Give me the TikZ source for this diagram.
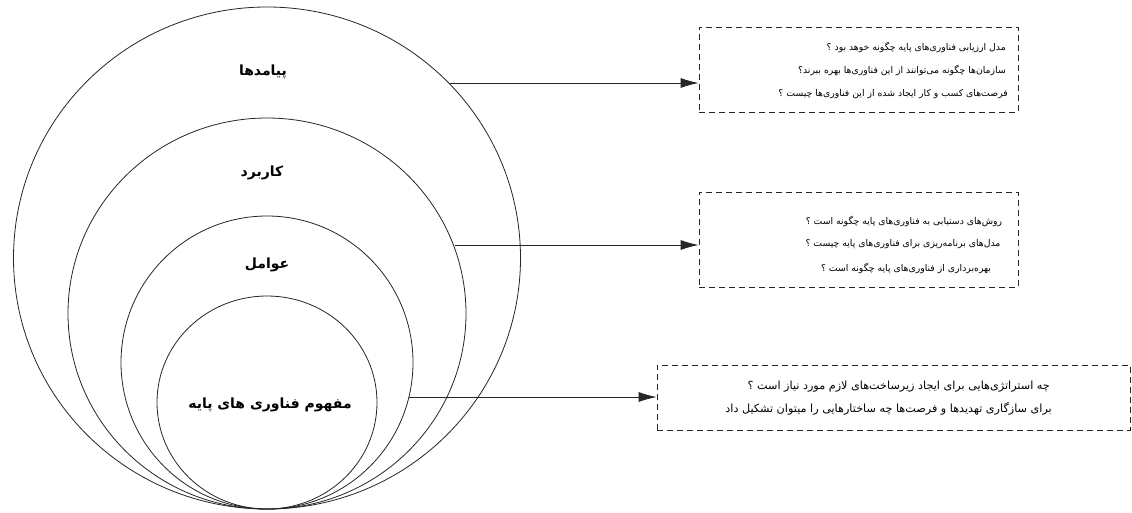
\documentclass[tikz,border=0pt]{standalone}
\usepackage{fontspec}
\TeXXeTstate=1
\newfontfamily\arabicfont[Script=Arabic]{DejaVu Sans}
\usetikzlibrary{arrows.meta}
\tikzset{
  ring/.style={draw=black!85, line width=0.8pt},
  qbox/.style={draw=black!85, dashed, dash pattern=on 6pt off 4pt, line width=0.8pt, minimum width=#1, inner sep=0pt},
  qline/.style={font=\arabicfont\fontsize{9.3}{11}\selectfont, inner sep=0pt, anchor=east},
  qlineb/.style={font=\arabicfont\fontsize{11.2}{13}\selectfont, inner sep=0pt, anchor=east},
  clabel/.style={font=\arabicfont\bfseries\fontsize{14}{16}\selectfont, inner sep=0pt},
  conn/.style={draw=black!85, line width=0.8pt, -{Latex[length=18pt,width=10pt]}}
}
\begin{document}
\begin{tikzpicture}[x=1pt,y=-1pt]
\useasboundingbox (0,0) rectangle (1132,512);
\fill[white] (0,0) rectangle (1132,512);
% rings
\draw[ring] (267,258) ellipse [x radius=253.5pt, y radius=251pt];
\draw[ring] (267,313.5) ellipse [x radius=199pt, y radius=195.5pt];
\draw[ring] (267,362.5) ellipse [x radius=146pt, y radius=146.5pt];
\draw[ring] (267,402.5) ellipse [x radius=110pt, y radius=106.5pt];
% ring labels
\node[clabel] (l1) at (263,72) {\beginR پیامدها\endR};
\node[clabel] (l2) at (262,173) {\beginR کاربرد\endR};
\node[clabel] (l3) at (267,265) {\beginR عوامل\endR};
\node[clabel] (l4) at (270,405) {\beginR مفهوم فناوری های پایه\endR};
% boxes
\node[qbox=319pt, minimum height=85pt] (b1) at (858.5,69.5) {};
\node[qbox=319pt, minimum height=95pt] (b2) at (858.5,239.5) {};
\node[qbox=473pt, minimum height=65pt] (b3) at (893.5,397.5) {};
% box texts
\node[qline] (t11) at (1006,47) {\beginR مدل ارزیابی فناوری‌های پایه چگونه خوهد بود ؟\endR};
\node[qline] (t12) at (1006,70) {\beginR سازمان‌ها چگونه می‌توانند از این فناوری‌ها بهره ببرند؟\endR};
\node[qline] (t13) at (1008,94) {\beginR فرصت‌های کسب و کار ایجاد شده از این فناوری‌ها چیست ؟\endR};
\node[qline, anchor=center] (t21) at (904,221) {\beginR روش‌های دستیابی به فناوری‌های پایه چگونه است ؟\endR};
\node[qline, anchor=center] (t22) at (903,244) {\beginR مدل‌های برنامه‌ریزی برای فناوری‌های پایه چیست ؟\endR};
\node[qline, anchor=center] (t23) at (906,268) {\beginR بهره‌برداری از فناوری‌های پایه چگونه است ؟\endR};
\node[qlineb] (t31) at (1050,387) {\beginR چه استراتژی‌هایی برای ایجاد زیرساخت‌های لازم مورد نیاز است ؟\endR};
\node[qlineb] (t32) at (1052,409) {\beginR برای سازگاری تهدیدها و فرصت‌ها چه ساختارهایی را میتوان تشکیل داد\endR};
% connectors
\coordinate (s1) at (450,83);
\coordinate (s2) at (455,245);
\coordinate (s3) at (409,397);
\draw[conn] (s1) -- (s1 -| b1.west);
\draw[conn] (s2) -- (s2 -| b2.west);
\draw[conn] (s3) -- (s3 -| b3.west);
\end{tikzpicture}
\end{document}
